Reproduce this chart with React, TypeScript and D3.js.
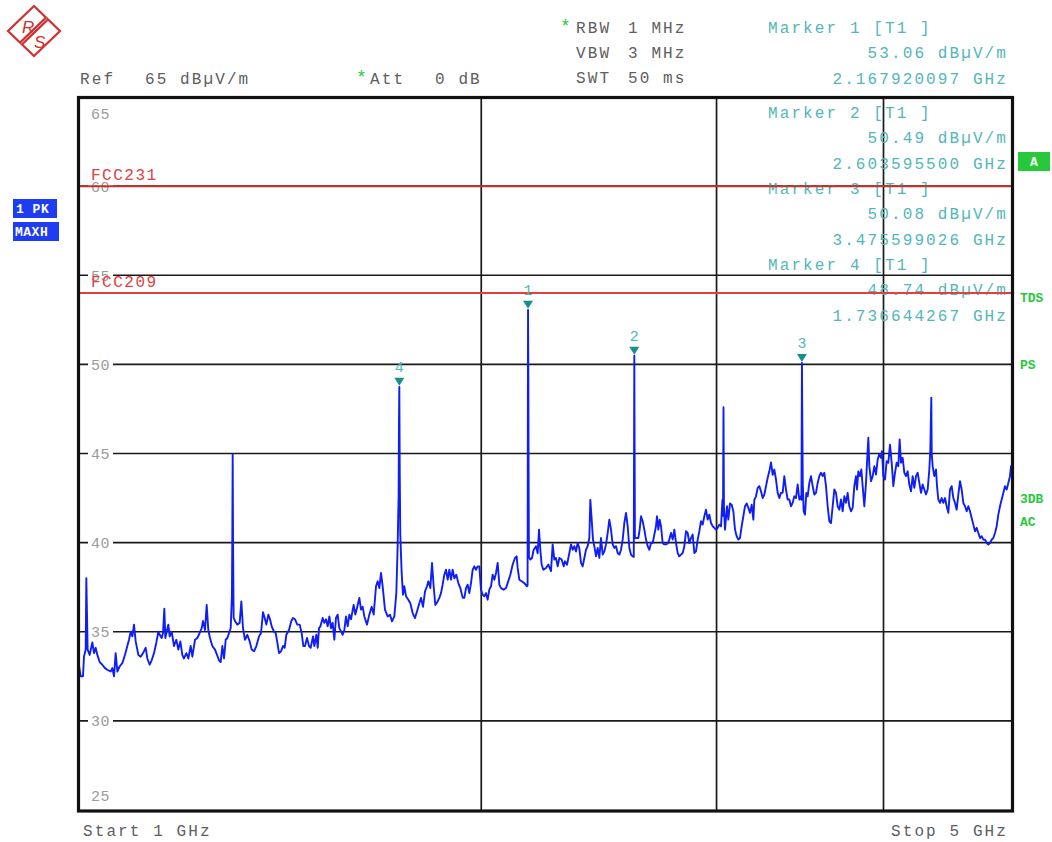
import React from 'react';
import * as d3 from 'd3';

// ---------- data ----------
const yTickLabels = [65, 60, 55, 50, 45, 40, 35, 30, 25];
const gridLevels = [60, 55, 50, 45, 40, 35, 30];
const gridFreqsMHz = [2000, 3000, 4000];
const limitNames = ['FCC231', 'FCC209'];
const limitLevels = [60, 54];
const markerIds = [1, 2, 3, 4];
const markerFreqsGHz = [2.167920097, 2.6035955, 3.475599026, 1.736644267];
const markerLevels = [53.06, 50.49, 50.08, 48.74];
const settingNames = ['RBW', 'VBW', 'SWT'];
const settingValues = ['1 MHz', '3 MHz', '50 ms'];
const startStop = ['Start  1 GHz', 'Stop  5 GHz'];
const freqDomainMHz = [1000, 5000];
const levelDomain = [25, 65];

// trace: [frequency MHz, level dBuV/m]
const trace: [number, number][] = [
[1000,33.1],[1002.9,32.5],[1006.9,32.5],[1008.6,33.6],[1011.6,34.0],[1012.7,38.0],[1015.0,34.0],[1018.5,33.7],[1023.2,34.4],[1026.2,33.8],[1029.1,34.1],[1032.1,33.7],[1036.3,33.3],[1041.0,33.15],[1045.8,32.96],[1050.0,32.87],[1056.1,32.77],[1059.1,32.96],[1062.2,32.5],[1065.2,33.8],[1068.3,32.77],[1072.5,33.05],[1077.5,33.24],[1082.4,33.7],[1086.8,34.2],[1090.0,34.55],[1093.1,35.0],[1096.3,34.74],[1099.4,35.4],[1102.6,34.46],[1107.7,33.7],[1112.1,33.6],[1116.6,33.8],[1121.8,34.1],[1125.0,33.5],[1129.5,33.15],[1133.4,33.4],[1138.0,33.8],[1142.6,34.4],[1146.5,35.0],[1149.8,34.8],[1153.1,34.65],[1155.8,34.93],[1158.4,36.3],[1160.4,34.65],[1163.8,35.1],[1166.4,35.4],[1169.1,34.74],[1173.2,35.0],[1177.9,34.2],[1182.6,34.55],[1186.7,34.0],[1190.8,34.46],[1194.9,33.7],[1198.3,33.5],[1203.2,33.8],[1207.3,33.5],[1212.2,34.2],[1215.7,33.6],[1221.3,34.55],[1226.2,34.65],[1231.1,34.93],[1235.4,35.2],[1238.2,35.6],[1242.5,35.1],[1246.1,36.5],[1249.6,35.1],[1253.2,34.65],[1258.3,34.2],[1264.1,34.0],[1268.5,33.7],[1272.8,33.4],[1276.5,33.3],[1280.2,34.2],[1283.9,33.5],[1287.6,34.55],[1291.3,34.65],[1295.0,34.93],[1298.7,35.2],[1301.5,37.0],[1302.3,40.0],[1303.2,44.94],[1304.0,40.2],[1305.3,35.8],[1308.4,35.6],[1313.7,35.4],[1319.0,35.5],[1322.8,36.7],[1326.6,35.2],[1331.1,34.55],[1336.5,34.83],[1341.9,34.46],[1346.5,34.0],[1352.0,33.9],[1357.4,34.2],[1363.7,34.74],[1368.4,34.93],[1373.1,36.1],[1377.1,35.77],[1381.0,35.4],[1385.8,35.96],[1389.8,35.7],[1393.8,35.3],[1399.4,35.0],[1403.4,34.93],[1407.4,34.4],[1411.5,33.8],[1416.4,33.9],[1421.2,34.2],[1425.3,34.1],[1429.4,34.83],[1436.0,35.1],[1441.8,35.6],[1445.9,35.77],[1450.9,35.7],[1456.8,35.4],[1462.7,35.4],[1467.7,34.93],[1471.9,34.2],[1476.2,34.2],[1481.3,34.65],[1486.4,34.2],[1490.7,34.1],[1496.7,34.74],[1500.1,34.2],[1505.3,34.83],[1508.8,34.1],[1512.2,35.2],
[1515.7,35.3],[1521.8,35.77],[1526.1,35.5],[1530.6,35.7],[1534.9,35.3],[1539.4,35.86],[1543.8,35.2],[1548.2,35.5],[1552.7,34.55],[1557.1,35.77],[1561.6,35.96],[1566.1,35.2],[1575.1,34.83],[1579.7,35.1],[1584.2,35.86],[1588.8,35.3],[1593.3,35.96],[1597.9,35.7],[1605.3,36.5],[1609.9,35.96],[1614.5,36.33],[1621.1,36.9],[1625.7,36.24],[1630.4,36.4],[1635.1,35.86],[1642.6,35.4],[1649.2,35.96],[1655.9,36.4],[1661.6,35.96],[1668.3,37.55],[1673.1,37.83],[1677.9,37.45],[1682.7,38.3],[1687.5,37.55],[1694.3,36.24],[1702.1,35.86],[1709.0,35.96],[1714.9,35.58],[1721.8,35.86],[1727.7,37.17],[1731.7,39.8],[1733.5,41.7],[1734.6,42.6],[1735.6,46.7],[1736.64,48.74],[1737.9,44.0],[1739.5,40.5],[1743.7,38.3],[1747.7,37.08],[1751.7,37.55],[1756.8,36.99],[1763.8,36.8],[1769.9,36.6],[1777.1,36.05],[1784.2,35.77],[1790.4,36.14],[1797.6,36.6],[1802.8,36.9],[1809.0,36.4],[1815.3,37.27],[1821.5,37.55],[1825.7,37.83],[1832.0,37.45],[1837.3,38.86],[1842.5,37.55],[1847.8,36.5],[1855.3,36.7],[1860.6,36.9],[1866.0,37.17],[1871.3,37.64],[1876.7,38.2],[1882.1,38.48],[1887.6,37.92],[1893.0,38.48],[1898.4,37.92],[1903.9,38.48],[1909.3,38.0],[1915.9,38.2],[1922.6,37.73],[1929.2,37.45],[1937.0,36.9],[1942.5,36.9],[1948.1,37.45],[1953.7,37.64],[1959.3,37.17],[1965.0,37.73],[1970.7,38.48],[1976.3,38.67],[1982.0,38.48],[1987.7,38.67],[1993.4,38.67],[1999.1,37.36],[2004.9,37.08],[2010.6,36.99],[2016.4,37.17],[2022.2,36.8],[2028.0,37.36],[2033.9,37.55],[2039.7,38.2],[2045.6,37.92],[2051.5,38.3],[2057.4,38.86],[2063.3,37.64],[2069.3,37.45],[2078.8,37.36],[2087.1,37.45],[2093.1,37.73],[2102.8,38.2],[2111.3,38.77],[2119.8,39.14],[2125.9,39.23],[2129.5,38.58],[2135.6,37.92],[2144.3,37.83],[2154.1,37.73],[2164.0,37.55],[2166.2,37.6],[2167.92,53.06],[2169.0,49.8],[2170.0,44.1],[2171.2,39.2],[2176.5,39.05],[2182.8,39.14],[2189.0,39.6],[2197.9,39.8],[2204.2,39.4],[2209.3,40.73],[2214.3,39.6],[2219.4,38.77],[2225.8,38.48],[2236.1,38.58],[2245.1,38.77],[2255.4,38.4],
[2261.9,39.9],[2268.4,39.05],[2274.9,39.14],[2281.5,38.67],[2288.1,39.14],[2297.3,39.05],[2305.2,38.67],[2310.5,38.95],[2318.5,38.76],[2327.8,39.42],[2334.5,39.9],[2341.3,39.6],[2348.0,39.8],[2354.7,39.5],[2361.5,39.98],[2367.9,39.7],[2375.1,38.86],[2381.9,38.67],[2388.8,39.14],[2395.6,39.6],[2402.5,39.8],[2409.4,40.26],[2413.6,42.4],[2419.2,41.29],[2424.7,40.17],[2430.3,39.8],[2437.3,39.23],[2444.3,39.7],[2451.3,39.14],[2458.4,40.26],[2465.5,39.33],[2472.5,39.5],[2479.6,39.9],[2486.8,40.54],[2493.9,41.29],[2501.1,40.73],[2508.3,39.9],[2515.5,39.7],[2522.8,39.8],[2530.0,39.42],[2537.3,39.33],[2544.6,39.6],[2551.9,40.17],[2559.2,41.1],[2566.6,41.67],[2574.0,40.92],[2581.4,39.7],[2588.8,39.33],[2596.3,39.23],[2601.2,39.2],[2603.6,50.49],[2604.9,45.5],[2606.3,40.26],[2615.7,40.26],[2621.7,40.26],[2627.7,40.73],[2633.8,41.48],[2641.3,41.2],[2648.9,40.73],[2656.6,40.17],[2664.2,39.8],[2671.9,39.6],[2679.6,39.98],[2687.3,39.98],[2695.0,40.45],[2702.7,40.92],[2707.4,41.48],[2713.6,40.73],[2719.9,41.29],[2726.2,40.92],[2734.0,39.98],[2741.9,39.9],[2749.8,39.9],[2757.7,39.95],[2765.6,40.17],[2773.6,40.54],[2781.6,40.17],[2789.5,40.73],[2797.5,39.98],[2805.6,39.42],[2813.0,39.23],[2821.7,39.33],[2829.9,39.42],[2838.0,39.8],[2846.1,40.64],[2854.3,40.54],[2862.5,39.98],[2870.8,40.26],[2879.0,40.45],[2887.3,39.42],[2895.6,39.51],[2904.0,40.17],[2912.3,40.64],[2920.7,41.2],[2929.1,41.01],[2937.5,41.48],[2945.9,41.85],[2954.4,41.29],[2962.9,41.57],[2971.5,41.1],[2980.0,40.92],[2988.6,40.83],[2997.2,40.73],[3005.8,40.83],[3014.4,41.01],[3023.1,40.92],[3030.5,42.4],[3033.5,41.5],[3036.1,47.6],[3038.5,42.0],[3044.0,40.73],[3054.5,42.04],[3061.5,41.29],[3070.3,42.2],[3079.2,42.13],[3088.0,41.76],[3096.9,40.73],[3105.8,40.36],[3114.7,40.17],[3123.7,40.26],[3132.7,40.92],[3141.7,41.48],[3150.7,42.04],[3159.8,42.2],[3168.9,41.95],[3178.1,41.67],[3187.2,42.13],[3196.4,41.29],[3201.8,42.4],[3211.0,42.6],[3220.3,43.07],[3229.5,43.17],[3238.8,42.88],[3248.2,42.5],[3257.5,42.7],[3266.9,43.17],[3276.3,43.64],[3285.7,44.0],[3295.1,44.5],[3304.6,43.8],[3314.1,44.1],[3323.6,43.54],[3333.2,42.79],[3342.8,42.5],[3352.3,42.79],
[3362.0,42.8],[3371.6,43.73],[3381.3,42.98],[3391.1,42.42],[3400.8,42.42],[3410.6,42.04],[3420.4,42.23],[3430.2,42.6],[3440.1,42.5],[3450.0,43.26],[3459.9,42.42],[3468.5,42.6],[3472.5,42.4],[3475.6,50.08],[3477.6,47.0],[3480.5,43.35],[3485.9,41.76],[3493.9,41.57],[3501.9,42.79],[3510.0,42.6],[3520.1,43.35],[3530.2,43.73],[3540.4,43.17],[3550.6,42.7],[3560.8,42.79],[3571.0,43.35],[3581.2,43.73],[3591.5,43.92],[3601.9,43.73],[3612.2,43.92],[3622.6,43.17],[3633.1,42.04],[3643.5,41.2],[3654.0,41.1],[3664.5,42.04],[3675.0,42.98],[3685.6,42.79],[3696.2,42.04],[3706.8,41.85],[3717.5,42.42],[3728.2,41.76],[3738.9,42.6],[3749.7,42.23],[3760.5,42.79],[3771.2,42.04],[3782.1,41.76],[3793.0,41.95],[3803.8,43.17],[3814.8,43.73],[3821.4,42.98],[3830.2,44.0],[3841.3,43.73],[3850.0,44.1],[3858.9,43.17],[3870.0,42.04],[3881.2,43.35],[3890.1,44.85],[3896.8,45.88],[3903.5,44.29],[3914.7,43.45],[3926.1,43.73],[3937.3,44.29],[3948.6,43.82],[3960.0,44.66],[3970.4,44.94],[3982.8,44.76],[3989.6,45.13],[3998.8,43.73],[4010.3,43.54],[4021.8,44.57],[4033.4,44.48],[4045.0,45.5],[4056.7,44.48],[4068.3,43.17],[4080.0,43.92],[4091.7,44.48],[4103.5,44.29],[4112.9,45.79],[4122.5,44.48],[4134.3,44.76],[4146.2,43.92],[4158.1,43.73],[4170.1,44.0],[4182.0,43.26],[4194.1,42.88],[4206.2,43.73],[4218.3,43.07],[4230.4,43.73],[4242.6,43.92],[4254.7,43.35],[4267.0,42.79],[4279.2,43.26],[4291.5,42.98],[4303.9,42.7],[4316.3,42.98],[4328.7,44.1],[4336.1,45.2],[4343.4,48.13],[4346.5,45.0],[4353.6,44.29],[4366.1,43.73],[4378.7,44.1],[4386.3,43.17],[4396.3,42.42],[4409.0,42.23],[4421.7,42.5],[4434.4,42.23],[4447.1,42.5],[4460.0,42.04],[4472.8,41.67],[4485.7,42.98],[4498.6,43.17],[4511.5,42.5],[4524.4,42.23],[4537.4,41.85],[4550.5,42.7],[4563.6,43.45],[4576.7,42.98],[4589.9,42.23],[4603.1,42.04],[4616.4,41.76],[4629.6,42.04],[4642.9,41.76],[4656.3,41.38],[4669.7,41.01],[4683.1,40.64],[4696.6,40.83],[4710.2,40.54],[4723.6,40.26],[4737.3,40.36],[4750.8,40.17],[4764.5,40.17],[4778.2,39.98],[4791.9,39.89],[4805.7,39.98],[4819.6,40.17],[4833.4,40.26],[4847.3,40.54],[4861.2,40.92],[4875.2,41.57],[4889.2,42.04],[4903.3,42.42],[4917.4,42.79],[4931.5,43.17],[4945.7,42.98],[4959.9,43.35],[4974.2,43.73],[4982.8,44.29],[4992.0,43.9]
];

// ---------- layout ----------
const W = 1052, H = 842;
const L = 79, R = 1013, T = 97, B = 810;
const MONO = "'Liberation Mono', 'DejaVu Sans Mono', monospace";
const GRAY = '#5e5e5e';
const TEAL = '#52b7b7';
const TEAL_DARK = '#16908f';
const GREEN = '#27c93a';
const RED = '#e04040';
const BLUE = '#0f1ef5';

export default function App() {
  const x = d3.scaleLog().domain(freqDomainMHz).range([L, R]);
  const y = d3.scaleLinear().domain(levelDomain).range([B, T]);
  const line = d3.line<[number, number]>().x(d => x(d[0])).y(d => y(d[1]));
  const markerBlockY = [33, 118, 194, 270];
  const txt = { fontFamily: MONO, fontSize: 16, letterSpacing: 2.1 } as React.CSSProperties;

  return (
    <svg width={W} height={H} style={{ position: 'absolute', left: 0, top: 0, display: 'block', background: '#fff' }}>
      <defs>
        <clipPath id="plotclip"><rect x={L} y={T} width={R - L} height={B - T} /></clipPath>
      </defs>
      {/* logo */}
      <g>
        <polygon points="34,6 60,31 34,56 8,31" fill="none" stroke="#d03030" strokeWidth={2.2} />
        <line x1={47} y1={18.5} x2={21} y2={43.5} stroke="#d03030" strokeWidth={5} />
        <line x1={47} y1={18.5} x2={21} y2={43.5} stroke="#f3b0b0" strokeWidth={1} />
        <text x={22} y={33} fill="#d03030" fontFamily="'Liberation Sans', sans-serif" fontStyle="italic" fontSize={17}>R</text>
        <text x={34} y={48} fill="#d03030" fontFamily="'Liberation Sans', sans-serif" fontStyle="italic" fontSize={17}>S</text>
      </g>

      {/* header */}
      <text x={80} y={84} fill={GRAY} style={txt}>Ref</text>
      <text x={145} y={84} fill={GRAY} style={txt}>65 dBµV/m</text>
      <text x={356} y={83} fill={GREEN} style={{ ...txt, fontSize: 18, letterSpacing: 0 }}>*</text>
      <text x={370} y={84} fill={GRAY} style={txt}>Att</text>
      <text x={435} y={84} fill={GRAY} style={txt}>0 dB</text>
      {settingNames.map((n, i) => (
        <g key={n}>
          {i === 0 && <text x={560} y={32} fill={GREEN} style={{ ...txt, fontSize: 18, letterSpacing: 0 }}>*</text>}
          <text x={576} y={33 + i * 25} fill={GRAY} style={txt}>{n}</text>
          <text x={628} y={33 + i * 25} fill={GRAY} style={txt}>{settingValues[i]}</text>
        </g>
      ))}

      {/* left boxes */}
      <rect x={13} y={199} width={44} height={19} fill="#1e3cf2" />
      <text x={16} y={213} fill="#fff" style={{ fontFamily: MONO, fontSize: 13, fontWeight: 700, letterSpacing: 0.5 }}>1 PK</text>
      <rect x={13} y={222} width={46} height={19} fill="#1e3cf2" />
      <text x={15} y={236} fill="#fff" style={{ fontFamily: MONO, fontSize: 13, fontWeight: 700, letterSpacing: 0.5 }}>MAXH</text>

      {/* right status */}
      <rect x={1018} y={152} width={32} height={19} fill={GREEN} />
      <text x={1034} y={166} textAnchor="middle" fill="#fff" style={{ fontFamily: MONO, fontSize: 13, fontWeight: 700 }}>A</text>
      {[['TDS', 302], ['PS', 369], ['3DB', 503], ['AC', 526]].map(([s, yy]) => (
        <text key={s as string} x={1020} y={yy as number} fill={GREEN} style={{ fontFamily: MONO, fontSize: 13, fontWeight: 700 }}>{s}</text>
      ))}

      {/* grid */}
      {gridLevels.map(v => (
        <line key={'h' + v} x1={L} x2={R} y1={y(v)} y2={y(v)} stroke="#1a1a1a" strokeWidth={1.7} />
      ))}
      {gridFreqsMHz.map(f => (
        <line key={'v' + f} x1={x(f)} x2={x(f)} y1={T} y2={B} stroke="#1a1a1a" strokeWidth={1.7} />
      ))}

      {/* y tick labels */}
      {yTickLabels.map((v, i) => {
        const yy = i === 0 ? y(v) + 16 : i === yTickLabels.length - 1 ? y(v) - 15 : y(v);
        const onGrid = gridLevels.includes(v);
        return (
          <g key={'t' + v}>
            {onGrid && <rect x={88} y={yy - 7} width={25} height={14} fill="#fff" />}
            <text x={91} y={yy + 5.5} fill="#9a9a9a" style={{ fontFamily: MONO, fontSize: 15, letterSpacing: 0.5 }}>{v}</text>
          </g>
        );
      })}

      {/* marker readout */}
      {markerIds.map((id, i) => (
        <g key={'mt' + id}>
          <text x={768} y={markerBlockY[i]} fill={TEAL} style={txt}>{`Marker ${id} [T1 ]`}</text>
          <text x={1008} y={markerBlockY[i] + 25} textAnchor="end" fill={TEAL} style={txt}>{`${markerLevels[i].toFixed(2)} dBµV/m`}</text>
          <text x={1008} y={markerBlockY[i] + 51} textAnchor="end" fill={TEAL} style={txt}>{`${markerFreqsGHz[i].toFixed(9)} GHz`}</text>
        </g>
      ))}

      {/* limit lines */}
      {limitNames.map((n, i) => (
        <g key={n}>
          <line x1={L} x2={R} y1={y(limitLevels[i])} y2={y(limitLevels[i])} stroke={i === 0 ? '#c8302a' : RED} strokeWidth={2} />
          <text x={91} y={y(limitLevels[i]) - 6} fill={RED} style={{ fontFamily: MONO, fontSize: 16, letterSpacing: 1.5 }}>{n}</text>
        </g>
      ))}

      {/* trace */}
      <path d={line(trace) || ''} fill="none" stroke={BLUE} strokeWidth={1.9} strokeLinejoin="round" clipPath="url(#plotclip)" />

      {/* markers */}
      {markerIds.map((id, i) => {
        const mx = x(markerFreqsGHz[i] * 1000);
        const my = y(markerLevels[i]);
        return (
          <g key={'m' + id}>
            <path d={`M${mx - 5},${my - 9}L${mx + 5},${my - 9}L${mx},${my - 1}Z`} fill={TEAL_DARK} />
            <text x={mx} y={my - 15} textAnchor="middle" fill={TEAL} style={{ fontFamily: MONO, fontSize: 15 }}>{id}</text>
          </g>
        );
      })}

      {/* frame */}
      <rect x={L - 0.5} y={T + 0.5} width={R - L} height={B - T + 0.5} fill="none" stroke="#111" strokeWidth={3.2} />

      {/* bottom */}
      <text x={83} y={836} fill={GRAY} style={txt}>{startStop[0]}</text>
      <text x={1008} y={836} textAnchor="end" fill={GRAY} style={txt}>{startStop[1]}</text>
    </svg>
  );
}
